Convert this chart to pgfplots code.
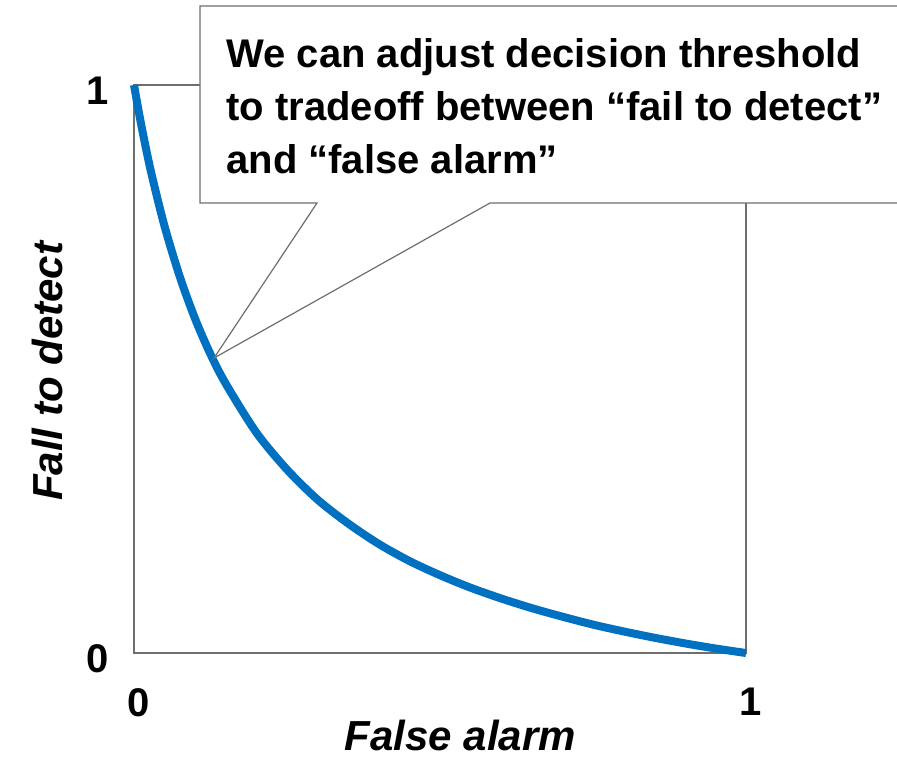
\documentclass[border=0pt]{standalone}
\usepackage{fontspec}
\setmainfont{Liberation Sans}
\usepackage{pgfplots}
\pgfplotsset{compat=1.18}
\definecolor{curveblue}{HTML}{0070C0}
\definecolor{framegray}{HTML}{6E6E6E}
\pgfplotstableread{
x y
0.000 1.000
0.010 0.940
0.020 0.886
0.030 0.837
0.050 0.751
0.075 0.662
0.100 0.588
0.125 0.526
0.150 0.474
0.200 0.388
0.250 0.323
0.300 0.270
0.350 0.228
0.400 0.192
0.450 0.162
0.500 0.137
0.550 0.115
0.600 0.096
0.650 0.079
0.700 0.064
0.750 0.050
0.800 0.038
0.850 0.027
0.900 0.017
0.950 0.008
1.000 0.000
}\curvedata
\begin{document}
\begin{tikzpicture}
\useasboundingbox (-67pt,-52pt) rectangle (381.5pt,326.5pt);
\begin{axis}[
  at={(0,0)}, anchor=origin,
  scale only axis,
  width=306pt, height=284pt,
  xmin=0, xmax=1, ymin=0, ymax=1,
  axis line style={draw=framegray, line width=0.7pt},
  xtick={0,1}, ytick={0,1},
  major tick length=0pt,
  /pgf/number format/assume math mode=true,
  tick label style={font=\bfseries\fontsize{20}{24}\selectfont, inner sep=0pt},
  xticklabel style={anchor=north, yshift=-17.5pt, xshift=2.5pt},
  yticklabel style={anchor=east, xshift=-12.5pt, yshift=-2.8pt},
  xlabel={\bfseries\itshape False alarm},
  ylabel={\bfseries\itshape Fall to detect},
  label style={font=\fontsize{21}{25}\selectfont, inner sep=0pt},
  xlabel style={at={(axis description cs:0.533,-0.145)}, anchor=center},
  ylabel style={at={(axis description cs:-0.142,0.496)}, anchor=center},
  clip=false,
]
\addplot[curveblue, line width=4pt, smooth, tension=0.5] table[x=x,y=y] {\curvedata};
\end{axis}
\begin{scope}[x=1pt, y=1pt]
\draw[framegray, line width=0.6pt, fill=white]
  (33,225) -- (91.5,225) -- (40,147.5) -- (178,225) -- (390,225)
  -- (390,323.5) -- (33,323.5) -- cycle;
\node[anchor=north west, align=left, inner sep=0pt,
      font=\bfseries\fontsize{20}{26.5}\selectfont]
  at (46,307.5) {We can adjust decision threshold\\to tradeoff between “fail to detect”\\and “false alarm”};
\end{scope}
\end{tikzpicture}
\end{document}
